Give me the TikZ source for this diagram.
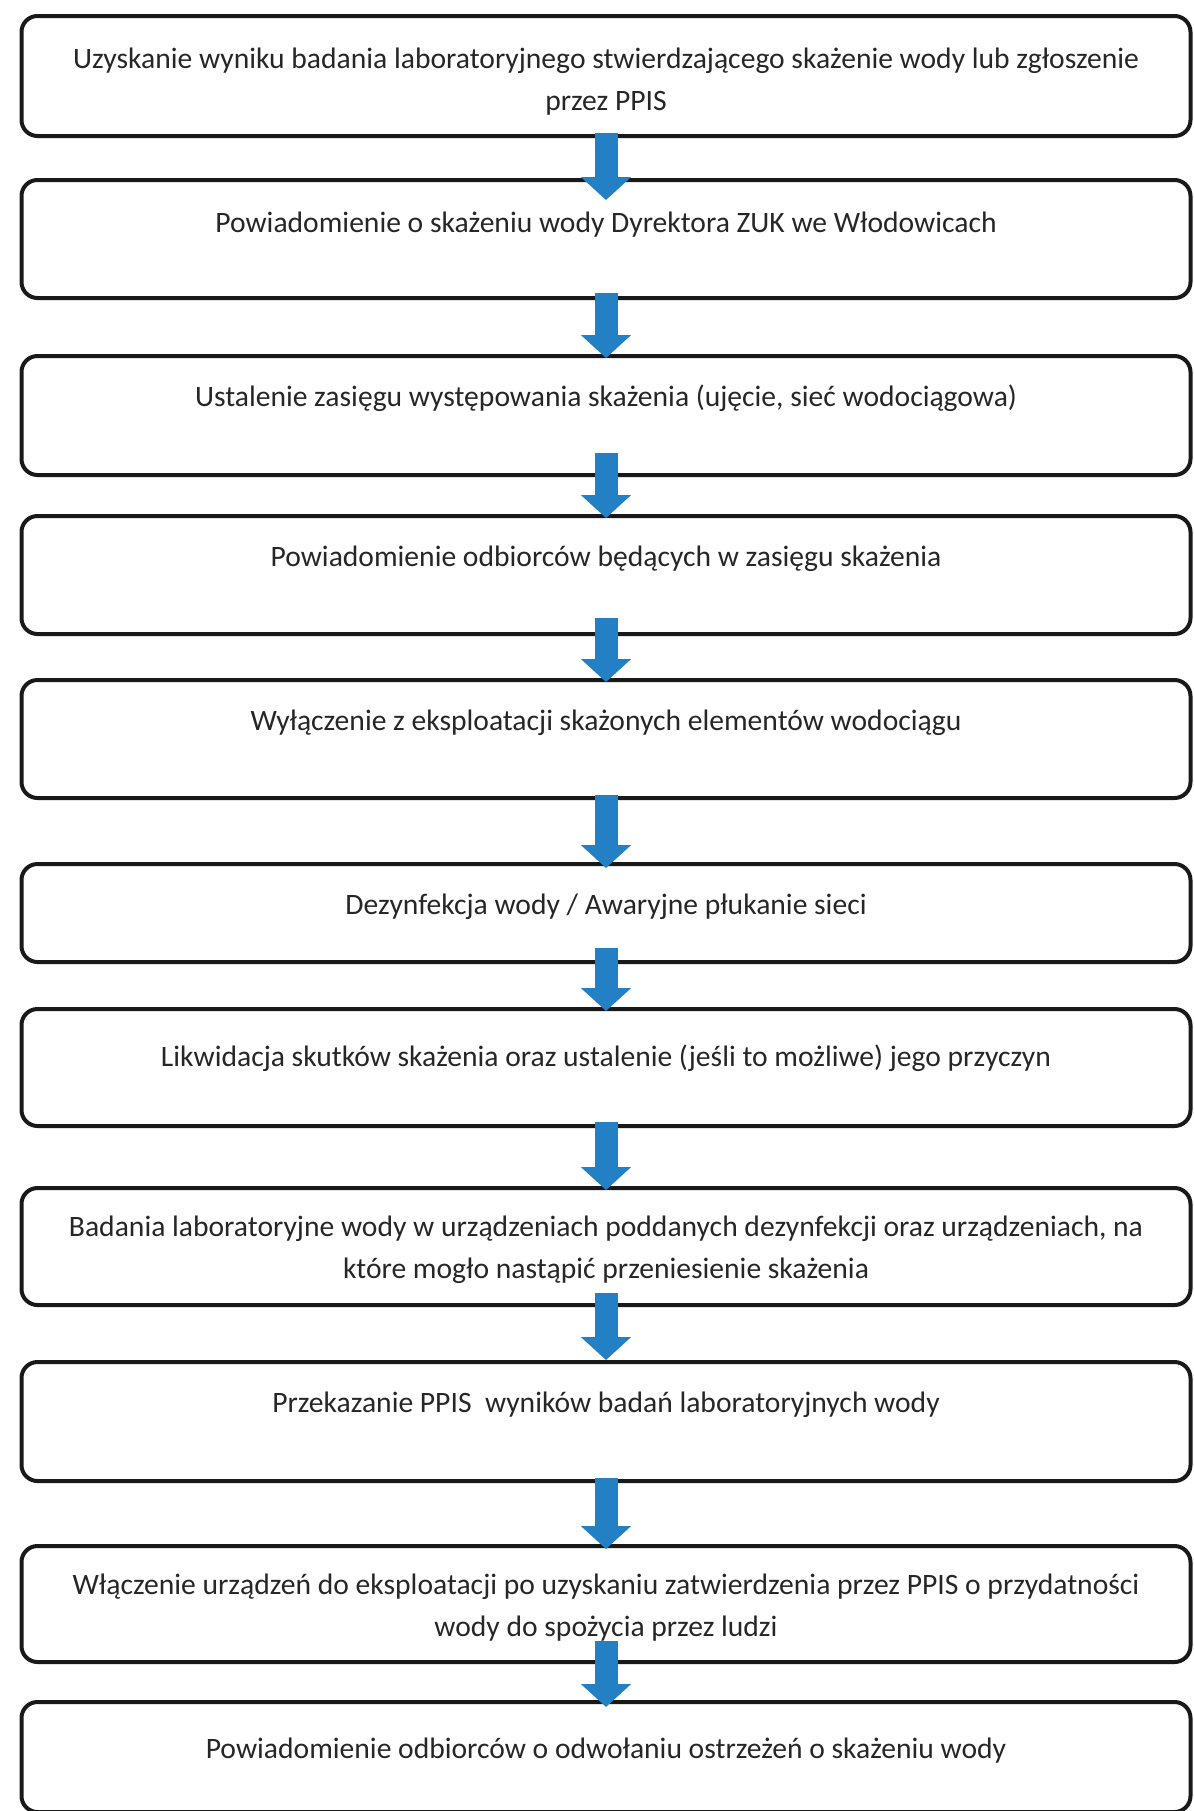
\documentclass[tikz,border=0pt]{standalone}
\usepackage{fontspec}
\setmainfont{Carlito}
\usepackage{tikz}
\usetikzlibrary{arrows.meta}
\definecolor{arrowblue}{RGB}{35,128,196}
\tikzset{
  box/.style={draw=black!90, line width=2pt, rounded corners=8pt, minimum width=584.5pt,
    anchor=north, inner sep=0pt, outer sep=0pt},
  boxtext/.style={anchor=north, align=center, inner sep=0pt, yshift=-10.3pt,
    font=\fontsize{14.8}{21}\selectfont, text=black!85},
  flow/.style={arrowblue, line width=11.5pt, -{Triangle[width=24.5pt,length=11.5pt]}}
}

\begin{document}
\begin{tikzpicture}[x=0.5pt, y=-0.5pt]
            \useasboundingbox (0,0) rectangle (1194,1811);
            \node[box, minimum height=60pt, label={[boxtext, yshift=-1pt]north:{\strut Uzyskanie wyniku badania laboratoryjnego stwierdzającego skażenie wody lub zgłoszenie\\przez PPIS}}] (b1) at (606,16) {};
            \node[box, minimum height=59pt, label={[boxtext, yshift=-1pt]north:{\strut Powiadomienie o skażeniu wody Dyrektora ZUK we Włodowicach}}] (b2) at (606,180) {};
            \node[box, minimum height=59.5pt, label={[boxtext]north:{\strut Ustalenie zasięgu występowania skażenia (ujęcie, sieć wodociągowa)}}] (b3) at (606,356) {};
            \node[box, minimum height=59pt, label={[boxtext]north:{\strut Powiadomienie odbiorców będących w zasięgu skażenia}}] (b4) at (606,516) {};
            \node[box, minimum height=59pt, label={[boxtext]north:{\strut Wyłączenie z eksploatacji skażonych elementów wodociągu}}] (b5) at (606,680) {};
            \node[box, minimum height=49pt, label={[boxtext]north:{\strut Dezynfekcja wody / Awaryjne płukanie sieci}}] (b6) at (606,864) {};
            \node[box, minimum height=58.5pt, label={[boxtext, yshift=-3.5pt]north:{\strut Likwidacja skutków skażenia oraz ustalenie (jeśli to możliwe) jego przyczyn}}] (b7) at (606,1009) {};
            \node[box, minimum height=58.5pt, label={[boxtext, yshift=1pt]north:{\strut Badania laboratoryjne wody w urządzeniach poddanych dezynfekcji oraz urządzeniach, na\\które mogło nastąpić przeniesienie skażenia}}] (b8) at (606,1188) {};
            \node[box, minimum height=59.5pt, label={[boxtext]north:{\strut Przekazanie PPIS~ wyników badań laboratoryjnych wody}}] (b9) at (606,1362) {};
            \node[box, minimum height=58pt, label={[boxtext, yshift=1pt]north:{\strut Włączenie urządzeń do eksploatacji po uzyskaniu zatwierdzenia przez PPIS o przydatności\\wody do spożycia przez ludzi}}] (b10) at (606,1546) {};
            \node[box, minimum height=55pt, label={[boxtext, yshift=-3pt]north:{\strut Powiadomienie odbiorców o odwołaniu ostrzeżeń o skażeniu wody}}] (b11) at (606,1702) {};
            % blue arrows between the steps
            \draw[flow] ([yshift=1.5pt]b1.south) -- ([yshift=-10pt]b2.north);
            \draw[flow] ([yshift=2.5pt]b2.south) -- ([yshift=-1pt]b3.north);
            \draw[flow] ([yshift=11pt]b3.south) -- ([yshift=-1pt]b4.north);
            \draw[flow] ([yshift=8pt]b4.south) -- ([yshift=-1pt]b5.north);
            \draw[flow] ([yshift=1.5pt]b5.south) -- ([yshift=-2pt]b6.north);
            \draw[flow] ([yshift=7pt]b6.south) -- ([yshift=-1pt]b7.north);
            \draw[flow] ([yshift=2pt]b7.south) -- ([yshift=-1pt]b8.north);
            \draw[flow] ([yshift=6pt]b8.south) -- ([yshift=1pt]b9.north);
            \draw[flow] ([yshift=1.5pt]b9.south) -- ([yshift=-1.5pt]b10.north);
            \draw[flow] ([yshift=10.5pt]b10.south) -- ([yshift=-2.5pt]b11.north);
        \end{tikzpicture}
\end{document}
